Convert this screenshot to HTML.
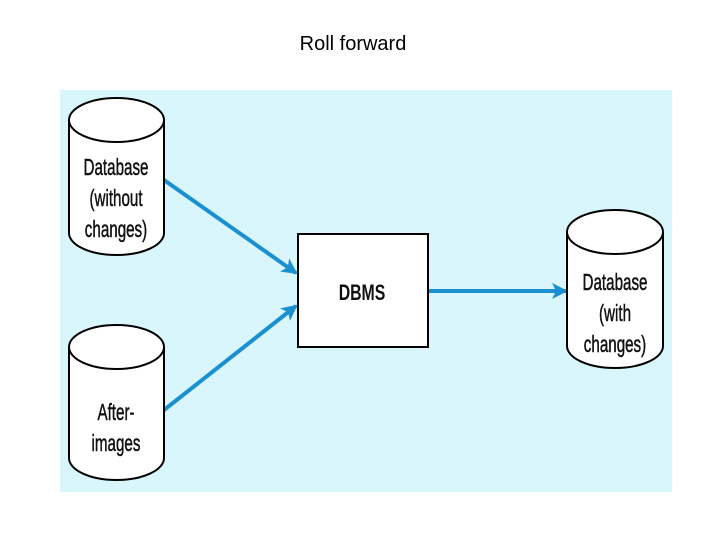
<!DOCTYPE html>
<html><head><meta charset="utf-8"><style>
body{margin:0;background:#fff;width:720px;height:540px;overflow:hidden;font-family:"Liberation Sans",sans-serif}
</style></head><body>
<svg width="720" height="540" xmlns="http://www.w3.org/2000/svg" style="position:absolute;left:0;top:0">
<text x="353" y="50" font-size="20" text-anchor="middle" font-family="Liberation Sans">Roll forward</text>
<rect x="60" y="90" width="612" height="402" fill="#d9f6fc"/>
<defs>
<marker id="b" markerWidth="16" markerHeight="16" refX="14" refY="8" orient="auto" markerUnits="userSpaceOnUse" viewBox="0 0 16 16"><path d="M0,0 L16,8 L0,16 L4,8 Z" fill="#1a90d0"/></marker></defs>
<g stroke="#1a90d0" stroke-width="4" fill="none">
<line x1="164" y1="180" x2="296" y2="273" marker-end="url(#b)"/>
<line x1="164" y1="410" x2="296" y2="306" marker-end="url(#b)"/>
<line x1="428" y1="291" x2="566" y2="291" marker-end="url(#b)"/>
</g>
<g fill="#fff" stroke="#000" stroke-width="2">
<path d="M69,120 L69,233 A47.5,22 0 0 0 164,233 L164,120"/>
<ellipse cx="116.5" cy="120" rx="47.5" ry="22"/>
<path d="M69,347 L69,458 A47.5,22 0 0 0 164,458 L164,347"/>
<ellipse cx="116.5" cy="347" rx="47.5" ry="22"/>
<path d="M567,232 L567,346 A48,22 0 0 0 663,346 L663,232"/>
<ellipse cx="615" cy="232" rx="48" ry="22"/>
<rect x="298" y="234" width="130" height="113"/>
</g>
<g font-size="23" text-anchor="middle" font-family="Liberation Sans" fill="#111" stroke="#111" stroke-width="0.5">
<g transform="translate(116,0) scale(0.66,1)">
<text x="0" y="175">Database</text><text x="0" y="206">(without</text><text x="0" y="237">changes)</text>
<text x="0" y="420">After-</text><text x="0" y="451">images</text></g>
<g transform="translate(615,0) scale(0.66,1)">
<text x="0" y="290">Database</text><text x="0" y="321">(with</text><text x="0" y="352">changes)</text></g>
<g transform="translate(362,0) scale(0.72,1)"><text x="0" y="300" font-size="22" font-weight="bold" stroke-width="0">DBMS</text></g>
</g>
</svg>
</body></html>
